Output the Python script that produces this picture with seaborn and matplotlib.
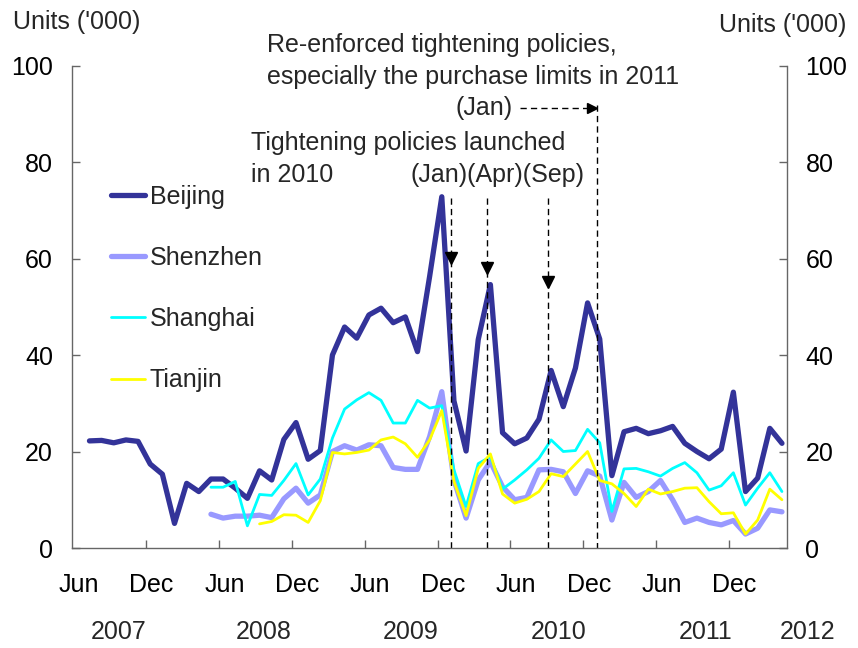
import matplotlib
matplotlib.use("Agg")
import matplotlib.pyplot as plt
import seaborn as sns
import pandas as pd

# ---------------- data (units, '000) ----------------
axis_origin = "2007-06"
beijing = [22.2, 22.3, 21.8, 22.4, 22.1, 17.4, 15.3, 5.1, 13.4, 11.7,
           14.3, 14.3, 12.4, 10.3, 16.0, 14.1, 22.5, 26.0, 18.4, 20.2,
           40.0, 45.8, 43.5, 48.3, 49.7, 46.7, 47.9, 40.7, 56.3, 72.8,
           30.5, 20.1, 43.2, 54.6, 23.9, 21.6, 22.8, 26.7, 36.8, 29.3,
           37.3, 50.8, 43.3, 15.0, 24.1, 24.8, 23.7, 24.3, 25.2, 21.7,
           20.0, 18.5, 20.5, 32.3, 11.7, 14.5, 24.8, 21.7]
shenzhen = [7.0, 6.2, 6.6, 6.6, 6.8, 6.3, 10.2, 12.4, 9.3, 11.0,
            20.0, 21.2, 20.3, 21.4, 21.2, 16.7, 16.3, 16.3, 23.1, 32.4,
            14.1, 6.2, 14.1, 17.9, 12.7, 10.0, 10.5, 16.2, 16.3, 15.8,
            11.3, 16.0, 14.9, 5.8, 13.6, 10.5, 11.7, 14.0, 10.0, 5.3,
            6.2, 5.3, 4.8, 5.7, 2.9, 4.1, 7.9, 7.5]
shanghai = [12.6, 12.6, 13.8, 4.6, 11.1, 10.9, 14.0, 17.5, 11.0, 14.3,
            22.8, 28.8, 30.7, 32.2, 30.6, 25.9, 25.9, 30.6, 29.0, 29.5,
            16.2, 8.6, 17.5, 18.9, 12.2, 14.1, 16.2, 18.6, 22.4, 20.0,
            20.2, 24.6, 21.8, 7.6, 16.4, 16.5, 15.8, 14.9, 16.5, 17.7,
            15.6, 12.0, 12.9, 15.6, 8.9, 12.4, 15.6, 11.7]
tianjin = [5.0, 5.5, 6.9, 6.8, 5.3, 9.8,
           19.8, 19.5, 19.8, 20.3, 22.4, 23.0, 21.6, 18.8, 22.4, 28.5,
           13.8, 6.7, 16.5, 19.5, 11.2, 9.3, 10.1, 11.7, 15.4, 14.8,
           17.4, 20.0, 14.0, 13.3, 11.3, 8.6, 12.2, 11.2, 11.7, 12.4,
           12.5, 9.6, 7.1, 7.3, 2.9, 5.8, 12.2, 10.0]
cities = ["Beijing", "Shenzhen", "Shanghai", "Tianjin"]
starts = ["2007-07", "2008-05", "2008-05", "2008-09"]
values = [beijing, shenzhen, shanghai, tianjin]
colors = ["#333399", "#9999FF", "#00FFFF", "#FFFF00"]
widths = [3.8, 3.8, 2.0, 2.0]

month_tick_labels = ["Jun", "Dec"] * 5
year_labels = ["2007", "2008", "2009", "2010", "2011", "2012"]
policy_2010_months = ["2010-01", "2010-04", "2010-09"]
policy_2011_month = "2011-01"

origin = pd.Period(axis_origin, "M")


def mindex(s):
    return (pd.Period(s, "M") - origin).n


rows = []
for city, st, vals in zip(cities, starts, values):
    per = pd.period_range(st, periods=len(vals), freq="M")
    for p, v in zip(per, vals):
        rows.append({"city": city, "m": (p - origin).n, "units": v})
df = pd.DataFrame(rows)

# ---------------- style ----------------
sns.set_theme(style="white")
plt.rcParams["font.family"] = ["Liberation Sans", "DejaVu Sans"]
FS = 18
plt.rcParams["font.size"] = FS

fig = plt.figure(figsize=(8.58, 6.48), dpi=100)
ax = fig.add_axes([0.0836, 0.1543, 0.8333, 0.7446])

for city, col, lw in zip(cities, colors, widths):
    sns.lineplot(data=df[df.city == city], x="m", y="units", ax=ax,
                 color=col, linewidth=lw, label=city, estimator=None,
                 legend=False)

ax.set_xlim(-0.46, 58.39)
ax.set_ylim(0, 100)
ax.set_xlabel("")
ax.set_ylabel("")

spine_col = "#666666"
for s in ["left", "right", "bottom"]:
    ax.spines[s].set_visible(True)
    ax.spines[s].set_color(spine_col)
    ax.spines[s].set_linewidth(1.0)
ax.spines["top"].set_visible(False)

# y ticks both sides
ax.set_yticks([0, 20, 40, 60, 80, 100])
ax.tick_params(axis="y", which="major", direction="in", length=6, width=1,
               color=spine_col, left=True, right=True, labelleft=True,
               labelright=True, pad=13.5, labelsize=FS, labelcolor="black")

# x tick marks (major, no labels) and month labels (minor, no marks)
ax.set_xticks([6 * k - 0.35 for k in range(1, 10)])
ax.set_xticklabels([])
ax.tick_params(axis="x", which="major", direction="in", length=6, width=1,
               color=spine_col, bottom=True)
ax.set_xticks([6 * k + 0.1 for k in range(10)], minor=True)
ax.set_xticklabels(month_tick_labels, minor=True)
ax.tick_params(axis="x", which="minor", length=0, pad=18.0,
               labelsize=FS, labelcolor="black")

# year labels
year_pos = [3.4, 15.3, 27.4, 39.6, 51.7, 60.1]
for yp, yl in zip(year_pos, year_labels):
    ax.text(yp, -17.4, yl, ha="center", va="center", fontsize=FS,
            clip_on=False)

# axis unit titles
fig.text(12.7 / 858, 1 - 21.7 / 648, "Units ('000)", ha="left",
         va="center", fontsize=FS)
fig.text(846.7 / 858, 1 - 25 / 648, "Units ('000)", ha="right",
         va="center", fontsize=FS)

# policy markers
dash = (0, (4.5, 3))
arrow_v = [60.1, 58.1, 55.2]
for pm, av in zip(policy_2010_months, arrow_v):
    xm = mindex(pm) - 0.25
    ax.plot([xm, xm], [72.6, 0], color="black", lw=1.0, ls=dash,
            clip_on=False)
    ax.plot([xm], [av], marker="v", ms=8, color="black", ls="none")

x11 = mindex(policy_2011_month) - 0.25
ax.plot([x11, x11], [91.9, 0], color="black", lw=1.0, ls=dash,
        clip_on=False)
ax.plot([36.4, x11 - 0.3], [91.1, 91.1], color="black", lw=1.0, ls=dash,
        clip_on=False)
ax.plot([x11 - 0.35], [91.1], marker=">", ms=7, color="black",
        clip_on=False)

ax.text(15.6, 101.0,
        "Re-enforced tightening policies,\nespecially the purchase limits in 2011",
        ha="left", va="center", fontsize=FS, linespacing=1.42, clip_on=False)
ax.text(35.87, 91.2, "(Jan)", ha="right", va="center", fontsize=FS)
ax.text(14.3, 84.0, "Tightening policies launched", ha="left",
        va="center", fontsize=FS)
ax.text(14.3, 77.3, "in 2010", ha="left", va="center", fontsize=FS)
ax.text(41.75, 77.3, "(Jan)(Apr)(Sep)", ha="right", va="center",
        fontsize=FS)

# legend
handles = ax.get_lines()[:4]
leg = ax.legend(handles, cities, loc="center left",
                bbox_to_anchor=(110.7 / 858, 1 - 288.5 / 648),
                bbox_transform=fig.transFigure, frameon=False,
                borderpad=0, borderaxespad=0, handlelength=1.38,
                handletextpad=0.18, labelspacing=1.49, fontsize=FS)

fig.savefig("out.png", dpi=100)
